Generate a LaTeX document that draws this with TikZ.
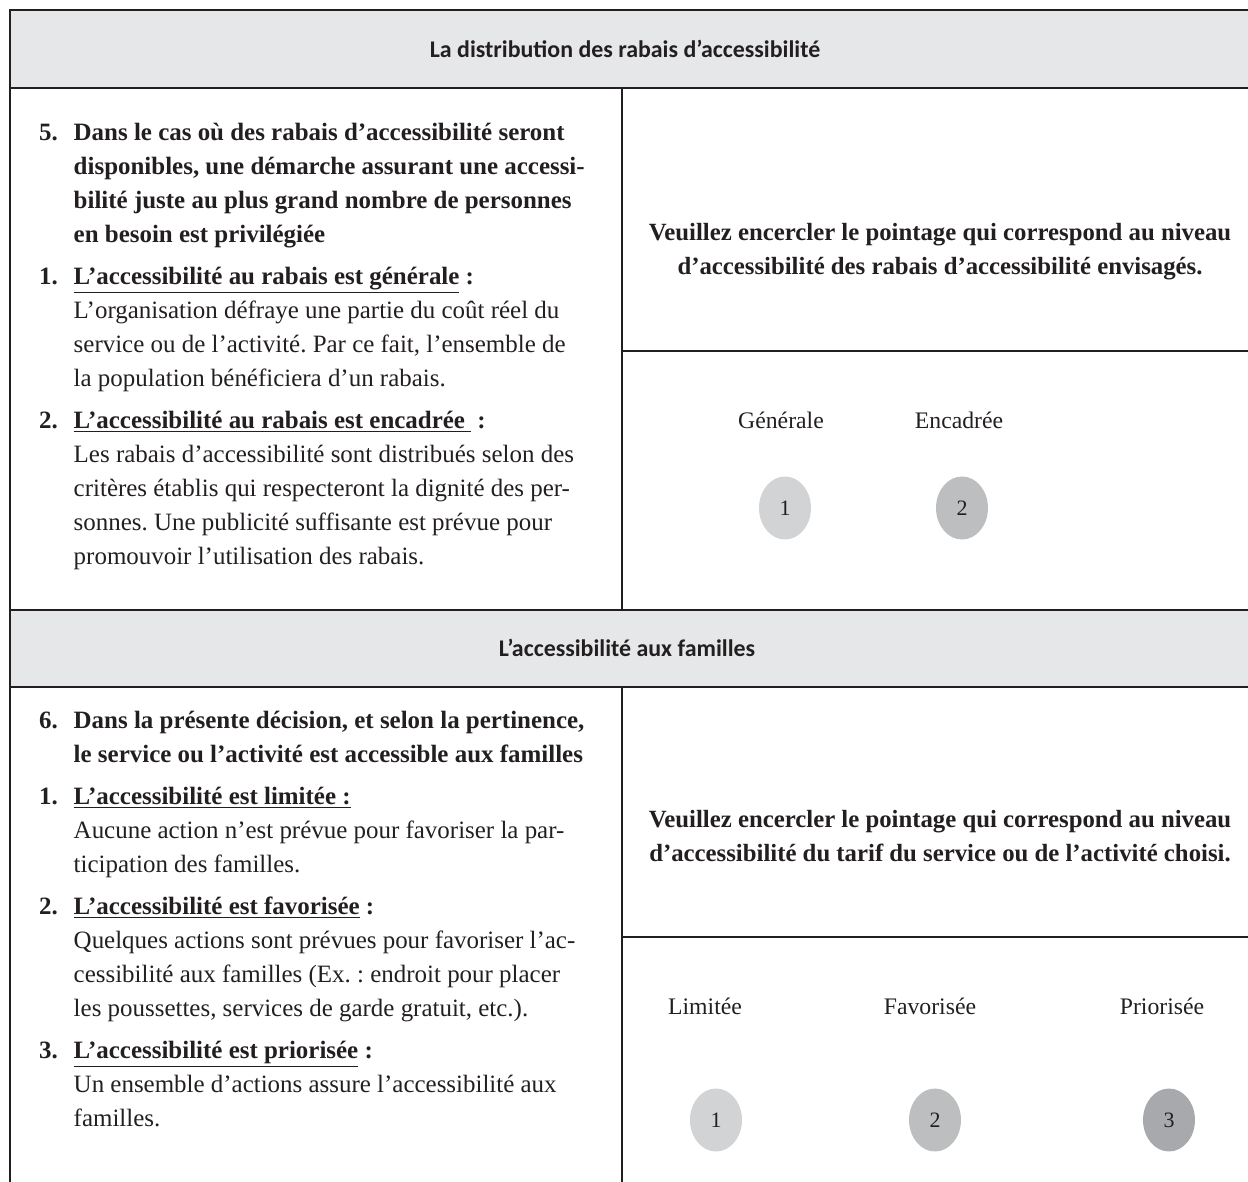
\documentclass[tikz,border=0pt]{standalone}
\usepackage{fontspec}
\setmainfont{Liberation Serif}
\newfontfamily\headfont{Carlito}
\usetikzlibrary{shapes.geometric, positioning}
\definecolor{ink}{HTML}{231F20}
\definecolor{bandgray}{HTML}{E6E7E8}
\definecolor{dotone}{HTML}{D1D3D4}
\definecolor{dottwo}{HTML}{BCBEC0}
\definecolor{dotthree}{HTML}{A7A9AC}
\tikzset{
  band/.style={fill=bandgray},
  bandtitle/.style={inner sep=0pt, font=\headfont\bfseries\fontsize{13.6}{16}\selectfont},
  itemtext/.style={anchor=north west, align=left, inner sep=0pt, font=\fontsize{14.2}{19.3}\selectfont},
  leadtext/.style={itemtext, font=\bfseries\fontsize{14.2}{19.3}\selectfont},
  asktext/.style={anchor=north, align=center, inner sep=0pt, font=\bfseries\fontsize{14.1}{19.3}\selectfont},
  scorelabel/.style={inner sep=0pt, font=\fontsize{13.5}{16}\selectfont},
  scoredot/.style={ellipse, minimum width=1.04cm, minimum height=1.26cm, inner sep=0pt, font=\fontsize{12.5}{14}\selectfont},
}
\newcommand{\itemno}[1]{\makebox[0pt][r]{\textbf{#1}\hspace{9pt}}}
\newcommand{\itemhead}[1]{\textbf{\underline{#1}}}
\frenchspacing

\begin{document}
\begin{tikzpicture}[x=0.02cm, y=-0.02cm, line width=0.85pt, color=ink]
    \useasboundingbox (0,0) rectangle (1248,1182);
    % grey bands
    \fill[band] (10,10) rectangle (1248,88);
    \fill[band] (10,610) rectangle (1248,687);
    % rules
    \draw (10,1182) -- (10,10) -- (1248,10);
    \draw (10,88) -- (1248,88);
    \draw (10,610) -- (1248,610);
    \draw (10,687) -- (1248,687);
    \draw (622,88) -- (622,610);
    \draw (622,687) -- (622,1182);
    \draw (622,351) -- (1248,351);
    \draw (622,937) -- (1248,937);

    \node[bandtitle] (bandone) at (625,49) {La distribution des rabais d’accessibilité};
    \node[bandtitle] (bandtwo) at (627,648) {L’accessibilité aux familles};

    % first block
    \node[leadtext] (qfive) at (73,116) {\strut\itemno{5.}Dans le cas où des rabais d’accessibilité seront\\
        disponibles, une démarche assurant une accessi-\\
        bilité juste au plus grand nombre de personnes\\
        en besoin est privilégiée};
    \node[itemtext] (rgen) at (73,260) {\strut\itemno{1.}\itemhead{L’accessibilité au rabais est générale} \textbf{:}\\
        L’organisation défraye une partie du coût réel du\\
        service ou de l’activité. Par ce fait, l’ensemble de\\
        la population bénéficiera d’un rabais.};
    \node[itemtext] (renc) at (73,404) {\strut\itemno{2.}\itemhead{L’accessibilité au rabais est encadrée\ } \textbf{:}\\
        Les rabais d’accessibilité sont distribués selon des\\
        critères établis qui respecteront la dignité des per-\\
        sonnes. Une publicité suffisante est prévue pour\\
        promouvoir l’utilisation des rabais.};
    \node[asktext] (askone) at (940,216) {\strut Veuillez encercler le pointage qui correspond au niveau\\
        d’accessibilité des rabais d’accessibilité envisagés.};

    \foreach \n/\x/\c in {1/785/dotone, 2/962/dottwo}
        \node[scoredot, fill=\c] (top\n) at (\x,508) {\textcolor{ink}{\n}};
    \node[scorelabel] (lgen) at (781,420) {Générale};
    \node[scorelabel] (lenc) at (959,420) {Encadrée};

    % second block
    \node[leadtext] (qsix) at (73,704) {\strut\itemno{6.}Dans la présente décision, et selon la pertinence,\\
        le service ou l’activité est accessible aux familles};
    \node[itemtext] (flim) at (73,780) {\strut\itemno{1.}\itemhead{L’accessibilité est limitée :}\\
        Aucune action n’est prévue pour favoriser la par-\\
        ticipation des familles.};
    \node[itemtext] (ffav) at (73,890) {\strut\itemno{2.}\itemhead{L’accessibilité est favorisée} \textbf{:}\\
        Quelques actions sont prévues pour favoriser l’ac-\\
        cessibilité aux familles (Ex. : endroit pour placer\\
        les poussettes, services de garde gratuit, etc.).};
    \node[itemtext] (fpri) at (73,1034) {\strut\itemno{3.}\itemhead{L’accessibilité est priorisée} \textbf{:}\\
        Un ensemble d’actions assure l’accessibilité aux\\
        familles.};
    \node[asktext] (asktwo) at (940,803) {\strut Veuillez encercler le pointage qui correspond au niveau\\
        d’accessibilité du tarif du service ou de l’activité choisi.};

    \foreach \n/\x/\c in {1/716/dotone, 2/935/dottwo, 3/1169/dotthree}
        \node[scoredot, fill=\c] (bot\n) at (\x,1120) {\textcolor{ink}{\n}};
    \node[scorelabel] (llim) at (705,1006) {Limitée};
    \node[scorelabel] (lfav) at (930,1006) {Favorisée};
    \node[scorelabel] (lpri) at (1162,1006) {Priorisée};
\end{tikzpicture}
\end{document}
